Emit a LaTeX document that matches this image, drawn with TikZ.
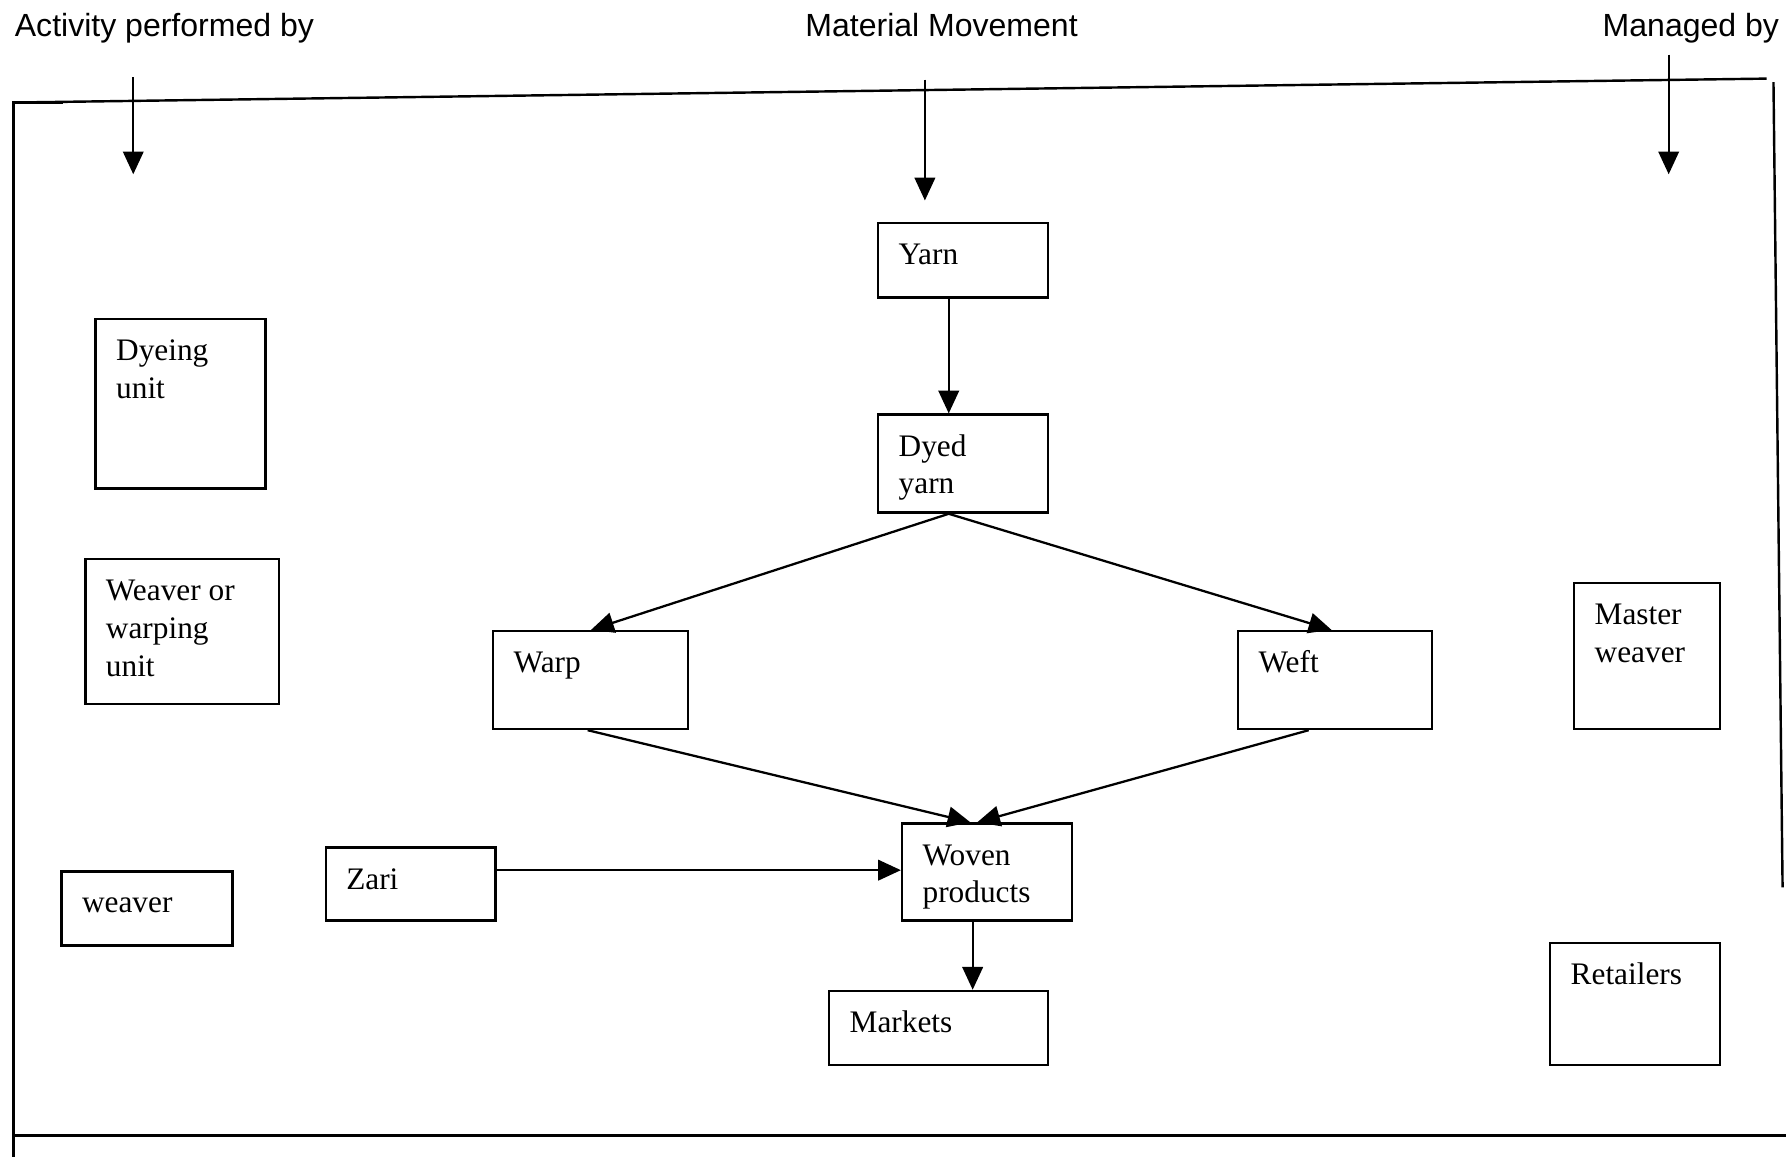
\documentclass[tikz,border=0pt]{standalone}
\usepackage{fontspec}
\setmainfont{Liberation Serif}
\newfontfamily\headfont{Liberation Sans}
\usetikzlibrary{arrows.meta,fit,calc}
\newcommand\firstln{\rule{0pt}{9.2pt}}
\begin{document}
\begin{tikzpicture}[x=0.4pt,y=-0.4pt,
  line width=0.85pt,
  box/.style={draw, line width=0.85pt, inner sep=0pt},
  lbl/.style={anchor=north west, inner sep=0pt, align=left,
    font=\fontsize{11}{13.2}\selectfont, xshift=7.2pt, yshift=-5.4pt},
  head/.style={anchor=base west, inner sep=0pt,
    font=\headfont\fontsize{11.25}{13}\selectfont},
  arr/.style={-{Triangle[length=8pt,width=7.2pt]}, line width=0.8pt}]
\useasboundingbox (0,0) rectangle (1568,1016);

% headings
\node[head] (h1) at (12,32) {Activity performed by};
\node[head] (h2) at (706,32) {Material Movement};
\node[head] (h3) at (1406,32) {Managed by};

% frame
\draw (55,90) -- (12,90) -- (12,1016);
\draw (12,90) -- (1551,69);
\draw (1557,72) -- (1565,779);
\draw (12,997) -- (1568,997);

% heading arrows
\coordinate (t1a) at (117,68);  \coordinate (t1b) at (117,153);
\coordinate (t2a) at (812,70);  \coordinate (t2b) at (812,176);
\coordinate (t3a) at (1465,48); \coordinate (t3b) at (1465,153);
\draw[arr] (t1a) -- (t1b);
\draw[arr] (t2a) -- (t2b);
\draw[arr] (t3a) -- (t3b);

% boxes
\node[box, fit={(771,196) (920,261)}] (yarn) {};
\node[box, fit={(771,364) (920,450)}] (dyed) {};
\node[box, fit={(84,280) (233,429)}] (dyeing) {};
\node[box, fit={(75,491) (245,618)}] (warping) {};
\node[box, fit={(433,554) (604,640)}] (warp) {};
\node[box, fit={(1087,554) (1257,640)}] (weft) {};
\node[box, fit={(1382,512) (1510,640)}] (master) {};
\node[box, fit={(54,765) (204,830)}] (weaver) {};
\node[box, fit={(286,744) (435,808)}] (zari) {};
\node[box, fit={(792,723) (941,808)}] (woven) {};
\node[box, fit={(728,870) (920,935)}] (markets) {};
\node[box, fit={(1361,828) (1510,935)}] (retail) {};

% texts
\node[lbl] (yarnT) at (yarn.north west) {\firstln Yarn};
\node[lbl] (dyedT) at (dyed.north west) {\firstln Dyed\\yarn};
\node[lbl] (dyeingT) at (dyeing.north west) {\firstln Dyeing\\unit};
\node[lbl] (warpingT) at (warping.north west) {\firstln Weaver or\\warping\\unit};
\node[lbl] (warpT) at (warp.north west) {\firstln Warp};
\node[lbl] (weftT) at (weft.north west) {\firstln Weft};
\node[lbl] (masterT) at (master.north west) {\firstln Master\\weaver};
\node[lbl] (weaverT) at (weaver.north west) {\firstln weaver};
\node[lbl] (zariT) at (zari.north west) {\firstln Zari};
\node[lbl] (wovenT) at (woven.north west) {\firstln Woven\\products};
\node[lbl] (marketsT) at (markets.north west) {\firstln Markets};
\node[lbl] (retailT) at (retail.north west) {\firstln Retailers};

% connectors
\draw[arr] ($(yarn.south west)+(63,0)$) -- ($(dyed.north west)+(63,0)$);
\draw[arr] ($(dyed.south west)+(63,0)$) -- ($(warp.north west)+(87,0)$);
\draw[arr] ($(dyed.south west)+(63,0)$) -- ($(weft.north west)+(83,0)$);
\draw[arr] ($(warp.south west)+(84,0)$) -- ($(woven.north west)+(61,0)$);
\draw[arr] ($(weft.south west)+(63,0)$) -- ($(woven.north west)+(67,0)$);
\draw[arr] ($(zari.north east)+(-2,21)$) -- ($(woven.north west)+(0,42)$);
\draw[arr] ($(woven.south west)+(63,0)$) -- ($(markets.north west)+(127,0)$);
\end{tikzpicture}
\end{document}
